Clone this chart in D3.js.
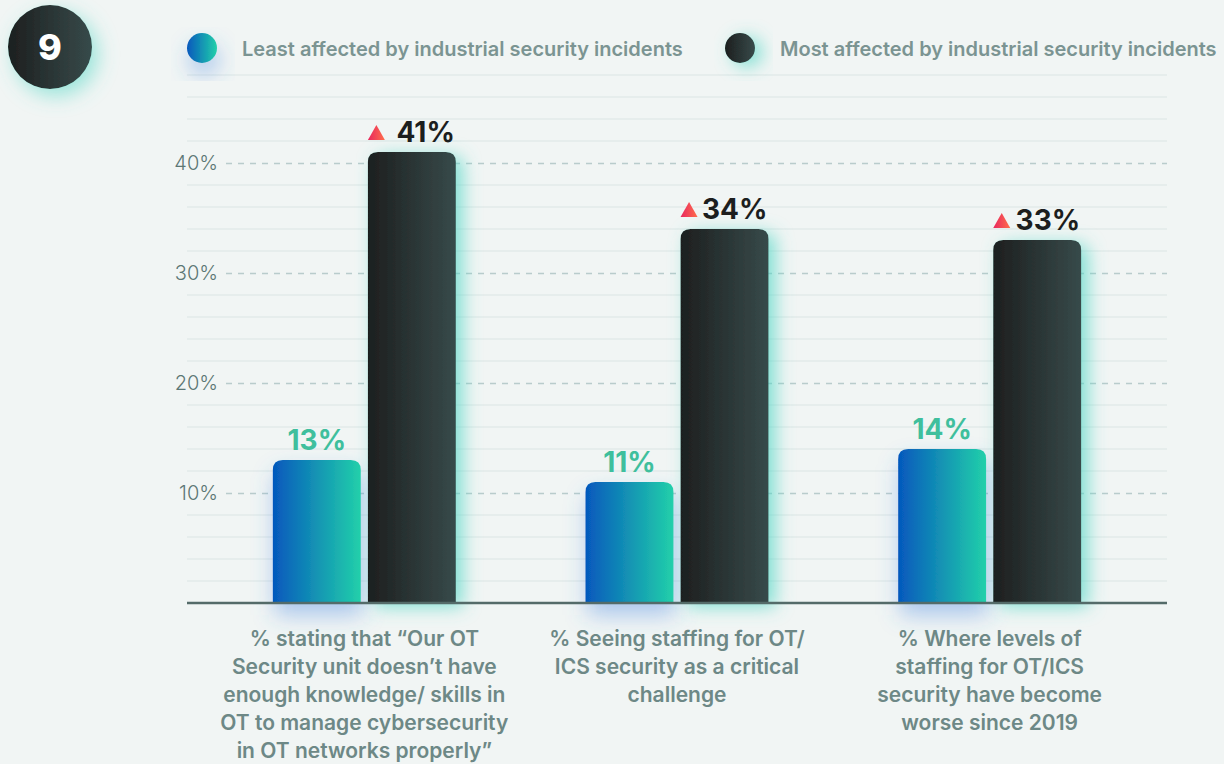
<!DOCTYPE html>
<html>
<head>
<meta charset="utf-8">
<script src="https://cdn.jsdelivr.net/npm/d3@7"></script>
<style>
  html, body { margin: 0; padding: 0; background: #f1f5f4; }
  svg { display: block; font-family: Inter, "Noto Sans", sans-serif; }
</style>
</head>
<body>
<div id="chart"></div>
<script>
// chart data
const categories = [
  ["% stating that \u201cOur OT", "Security unit doesn\u2019t have", "enough knowledge/ skills in", "OT to manage cybersecurity", "in OT networks properly\u201d"],
  ["% Seeing staffing for OT/", "ICS security as a critical", "challenge"],
  ["% Where levels of", "staffing for OT/ICS", "security have become", "worse since 2019"]
];
const seriesNames = ["Least affected by industrial security incidents", "Most affected by industrial security incidents"];
const leastValues = [13, 11, 14];
const mostValues = [41, 34, 33];
const yTicks = [10, 20, 30, 40];
const chartNumber = "9";

const width = 1224, height = 764;

const svg = d3.select('#chart')
    .append('svg')
    .attr('width', width)
    .attr('height', height);

const defs = svg.append('defs');

function hGrad(id, from, to) {
    const g = defs.append('linearGradient').attr('id', id)
        .attr('x1', '0%').attr('x2', '100%').attr('y1', '0%').attr('y2', '0%');
    g.append('stop').attr('offset', '0%').attr('stop-color', from);
    g.append('stop').attr('offset', '100%').attr('stop-color', to);
}
hGrad('gLight', '#0558bd', '#22d0aa');
hGrad('gDark', '#1d1f1f', '#374a4a');
hGrad('gTri', '#e8285e', '#ff6d4c');

function glow(id, color, dx, dy, blur, op) {
    const f = defs.append('filter').attr('id', id)
        .attr('x', '-60%').attr('y', '-60%').attr('width', '220%').attr('height', '220%');
    f.append('feFlood').attr('flood-color', color).attr('flood-opacity', op);
    f.append('feComposite').attr('in2', 'SourceAlpha').attr('operator', 'in');
    f.append('feGaussianBlur').attr('stdDeviation', blur);
    f.append('feOffset').attr('dx', dx).attr('dy', dy).attr('result', 'sh');
    const m = f.append('feMerge');
    m.append('feMergeNode').attr('in', 'sh');
    m.append('feMergeNode').attr('in', 'SourceGraphic');
}
glow('glowTeal', '#4fd6c4', 7, 4, 9, 0.7);
glow('glowBlue', '#3c7fe0', 2, 12, 11, 0.4);
glow('glowBadge', '#4fd6c4', 6, 7, 10, 0.55);

// scales
const x0 = d3.scaleBand()
    .domain(d3.range(categories.length))
    .range([208, 1146]);

const x1 = d3.scaleBand()
    .domain([0, 1])
    .range([x0.bandwidth() / 2 - 91.5, x0.bandwidth() / 2 + 91.5])
    .paddingInner(0.075);

const y = d3.scaleLinear()
    .domain([0, 48])
    .range([603, 75]);

// grid
const plotLeft = 187, plotRight = 1167;
const minor = d3.range(2, 49, 2).filter(d => d % 10 !== 0);
svg.append('g').selectAll('line')
    .data(minor)
    .join('line')
    .attr('x1', plotLeft).attr('x2', plotRight)
    .attr('y1', d => y(d)).attr('y2', d => y(d))
    .attr('stroke', '#dce6e4')
    .attr('stroke-width', 1.2);

const yAxis = svg.append('g')
    .attr('transform', 'translate(226,0)')
    .call(d3.axisLeft(y).tickValues(yTicks).tickFormat(d => d + '%').tickSize(0).tickPadding(8));
yAxis.select('.domain').remove();
yAxis.selectAll('text')
    .attr('font-size', 20)
    .attr('font-weight', 300)
    .attr('fill', '#5c7775')
    .attr('font-family', 'Inter, sans-serif');
yAxis.selectAll('.tick').append('line')
    .attr('x1', 0).attr('x2', plotRight - 226)
    .attr('stroke', '#b9cccc')
    .attr('stroke-width', 1.3)
    .attr('stroke-dasharray', '6,6');

// bars
function topRounded(x, yTop, w, yBase, r) {
    return `M${x},${yBase}V${yTop + r}Q${x},${yTop} ${x + r},${yTop}H${x + w - r}Q${x + w},${yTop} ${x + w},${yTop + r}V${yBase}Z`;
}

const groups = svg.append('g').selectAll('g')
    .data(categories.map((c, i) => ({ i, least: leastValues[i], most: mostValues[i] })))
    .join('g')
    .attr('transform', d => `translate(${x0(d.i)},0)`);

groups.append('path')
    .attr('d', d => topRounded(x1(0), y(d.least), x1.bandwidth(), y(0), 10))
    .attr('fill', 'url(#gLight)')
    .attr('filter', 'url(#glowBlue)');

groups.append('path')
    .attr('d', d => topRounded(x1(1), y(d.most), x1.bandwidth(), y(0), 10))
    .attr('fill', 'url(#gDark)')
    .attr('filter', 'url(#glowTeal)');

// baseline
svg.append('line')
    .attr('x1', plotLeft).attr('x2', plotRight)
    .attr('y1', y(0)).attr('y2', y(0))
    .attr('stroke', '#546b69')
    .attr('stroke-width', 2.5);

// value labels
groups.append('text')
    .attr('x', x1(0) + x1.bandwidth() / 2)
    .attr('y', d => y(d.least) - 10)
    .attr('text-anchor', 'middle')
    .attr('font-size', 28)
    .attr('font-weight', 700)
    .attr('fill', '#3fbf9d')
    .text(d => d.least + '%');

groups.append('text')
    .attr('x', x1(1) + x1.bandwidth() - 1)
    .attr('y', d => y(d.most) - 10)
    .attr('text-anchor', 'end')
    .attr('font-size', 28)
    .attr('font-weight', 700)
    .attr('fill', '#1c1e1e')
    .text(d => d.most + '%');

groups.append('path')
    .attr('d', d => {
        const bx = x1(1), by = y(d.most) - 12;
        return `M${bx},${by}L${bx + 17},${by}L${bx + 8.5},${by - 15}Z`;
    })
    .attr('fill', 'url(#gTri)');

// category labels
groups.append('text')
    .attr('text-anchor', 'middle')
    .attr('font-size', 21)
    .attr('font-weight', 600)
    .attr('fill', '#6d8886')
    .selectAll('tspan')
    .data(d => categories[d.i])
    .join('tspan')
    .attr('x', x0.bandwidth() / 2)
    .attr('y', (d, j) => 646 + j * 28)
    .text(d => d);

// legend
const legend = svg.append('g');
const legendX = [202, 740];
seriesNames.forEach((name, i) => {
    legend.append('circle')
        .attr('cx', legendX[i]).attr('cy', 48).attr('r', 15)
        .attr('fill', i === 0 ? 'url(#gLight)' : 'url(#gDark)')
        .attr('filter', i === 0 ? 'url(#glowBlue)' : 'url(#glowTeal)');
    legend.append('text')
        .attr('x', legendX[i] + 40).attr('y', 56)
        .attr('font-size', 20)
        .attr('font-weight', 600)
        .attr('fill', '#7b9492')
        .text(name);
});

// chart number badge
svg.append('circle')
    .attr('cx', 50).attr('cy', 47).attr('r', 42)
    .attr('fill', 'url(#gDark)')
    .attr('filter', 'url(#glowBadge)');
svg.append('text')
    .attr('x', 50).attr('y', 60)
    .attr('text-anchor', 'middle')
    .attr('font-size', 36)
    .attr('font-weight', 800)
    .attr('fill', '#ffffff')
    .text(chartNumber);
</script>
</body>
</html>
